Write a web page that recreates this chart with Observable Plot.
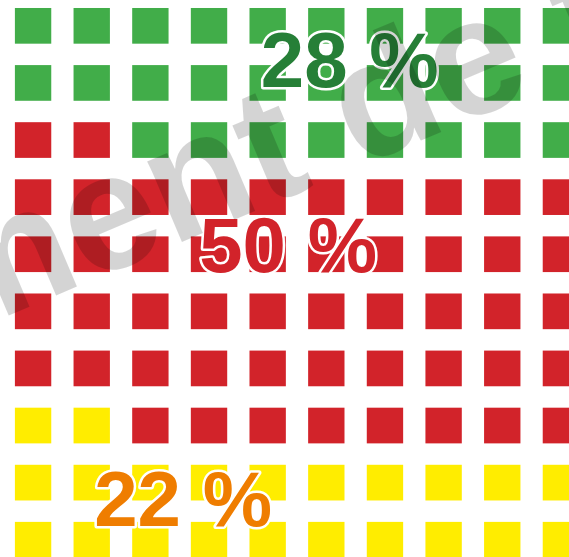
<!DOCTYPE html>
<html>
<head>
<meta charset="utf-8">
<script src="https://cdn.jsdelivr.net/npm/d3@7"></script>
<script src="https://cdn.jsdelivr.net/npm/@observablehq/plot@0.6"></script>
<style>
  html, body { margin: 0; padding: 0; overflow: hidden; background: #fff; }
  #chart svg { display: block; }
</style>
</head>
<body>
<div id="chart"></div>
<script>
// Categories in fill order (from bottom-left, row by row, left to right)
const categories = ["Jaune", "Rouge", "Vert"];
const shares = [22, 50, 28];               // percent = number of cells out of 100
const cellColors = ["#ffed00", "#d2232a", "#41ad49"];
const labelTexts = ["22 %", "50 %", "28 %"];
const labelColors = ["#ef7d00", "#d2232a", "#267f37"];
// annotation anchor of each label, in grid units (column, row from top)
const labelCols = [2.86, 4.65, 5.70];
const labelRows = [8.63, 4.17, 0.93];
const watermark = ["Document de travail"];

const nCols = 10, nRows = 10;

// build cells from the shares
const cells = [];
let k = 0;
categories.forEach((c, i) => {
  for (let j = 0; j < shares[i]; j++, k++) {
    cells.push({
      category: c,
      col: k % nCols,
      row: nRows - 1 - Math.floor(k / nCols)
    });
  }
});

const labels = categories.map((c, i) => ({
  category: c, text: labelTexts[i], col: labelCols[i], row: labelRows[i], color: labelColors[i]
}));

const W = 569, H = 557;
const sizeX = 0.62, sizeY = 0.625;

const chart = Plot.plot({
  width: W,
  height: H,
  margin: 0,
  x: { domain: [-0.254, 9.448], range: [0, W], axis: null },
  y: { domain: [-0.14, 9.615], range: [0, H], axis: null },
  color: { domain: categories, range: cellColors },
  marks: [
    Plot.rect(cells, {
      x1: "col",
      x2: d => d.col + sizeX,
      y1: "row",
      y2: d => d.row + sizeY,
      fill: "category"
    }),
    Plot.text(labels, {
      x: "col",
      y: "row",
      text: "text",
      fill: "color",
      stroke: "white",
      strokeWidth: 5,
      paintOrder: "stroke",
      fontFamily: "Liberation Sans",
      fontWeight: "bold",
      fontSize: 78,
      textAnchor: "middle",
      lineAnchor: "middle"
    }),
    Plot.text(watermark, {
      text: d => d,
      frameAnchor: "top-left",
      dx: -432,
      dy: 502,
      rotate: -23,
      textAnchor: "start",
      lineAnchor: "bottom",
      fontFamily: "Liberation Sans",
      fontWeight: "bold",
      fontSize: 166,
      fill: "black",
      fillOpacity: 0.17
    })
  ]
});

document.getElementById("chart").appendChild(chart);
</script>
</body>
</html>
